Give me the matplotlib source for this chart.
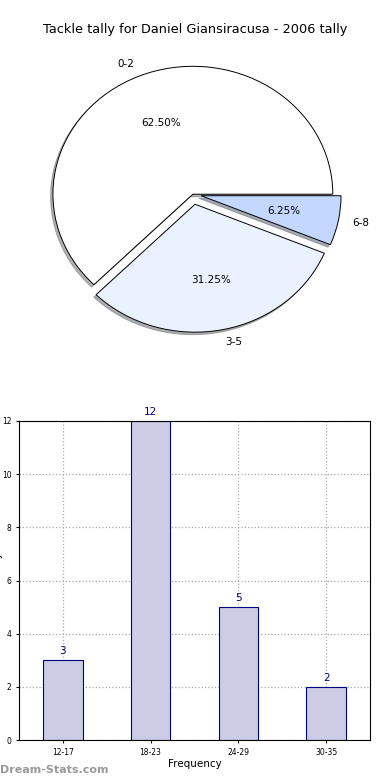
import matplotlib
matplotlib.use("Agg")
import matplotlib.pyplot as plt

title = "Tackle tally for Daniel Giansiracusa - 2006 tally"
pie_labels = ["0-2", "3-5", "6-8"]
pie_values = [10, 5, 1]
pie_colors = ["#FFFFFF", "#EBF2FF", "#C4D8FF"]
explode = [0, 0.08, 0.06]

bar_cats = ["12-17", "18-23", "24-29", "30-35"]
bar_vals = [3, 12, 5, 2]

fig = plt.figure(figsize=(3.9, 7.8), dpi=100)

# Pie
axp = fig.add_axes([0.046, 0.546, 0.897, 0.410])
wedges, texts, autotexts = axp.pie(pie_values, labels=pie_labels, colors=pie_colors,
                                   explode=explode,
                                   shadow={"ox": -0.012, "oy": -0.014, "shade": 0.6},
                                   autopct="%1.2f%%",
                                   startangle=0, counterclock=True,
                                   wedgeprops=dict(edgecolor="black", linewidth=0.7),
                                   textprops=dict(fontsize=7.5))
axp.set_aspect("auto")
axp.set_xlim(-1.25, 1.25)
axp.set_ylim(-1.25, 1.25)
fig.text(0.5, 1 - 30 / 780, title, ha="center", va="center", fontsize=9.3)

# Bars
axb = fig.add_axes([19 / 390, 1 - 740 / 780, 351 / 390, 319 / 780])
x = list(range(len(bar_cats)))
axb.bar(x, bar_vals, width=0.45, color="#CCCCE5", edgecolor="#000080", linewidth=0.8, zorder=2)
for xi, v in zip(x, bar_vals):
    axb.text(xi, v + 0.15, str(v), ha="center", va="bottom", color="#000080", fontsize=7.5)
axb.set_xlim(-0.5, 3.5)
axb.set_ylim(0, 12)
axb.set_xticks(x)
axb.set_xticklabels(bar_cats)
axb.set_yticks(range(0, 13, 2))
axb.tick_params(labelsize=5.5, length=2)
axb.grid(True, linestyle=":", color="#AAAAAA", linewidth=0.9, zorder=0)
axb.set_axisbelow(True)
axb.set_xlabel("Frequency", fontsize=7.5, labelpad=2)
axb.set_ylabel("Tackle tally", fontsize=7.5)
axb.yaxis.set_label_coords(-0.045, 0.5)

fig.text(0.0, 1 - 770 / 780, "Dream-Stats.com", ha="left", va="center", fontsize=8,
         color="#9A9A9A", fontweight="bold")

fig.savefig("out.png", dpi=100)
